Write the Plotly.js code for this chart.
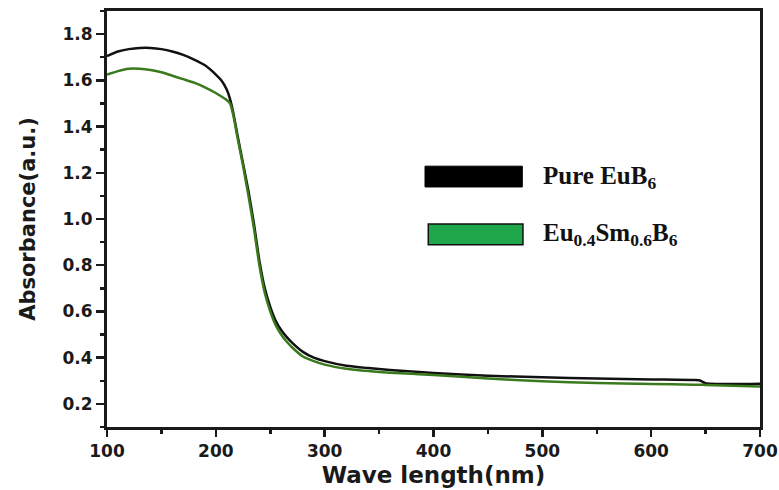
<!DOCTYPE html>
<html>
<head>
<meta charset="utf-8">
<script src="https://cdn.plot.ly/plotly-3.0.1.min.js"></script>
<style>
  html, body { margin: 0; padding: 0; background: #fff; }
  #chart { width: 779px; height: 490px; }
</style>
</head>
<body>
<div id="chart"></div>
<script>
// Wavelength (nm)
const wavelength = [100,110,120,130,140,150,160,170,180,190,200,205,210,213,216,220,225,230,235,240,245,250,255,260,265,270,280,290,300,320,340,360,380,400,450,500,550,600,640,645,650,700];
// Pure EuB6 absorbance
const absPure = [1.705,1.725,1.735,1.74,1.74,1.735,1.725,1.71,1.69,1.665,1.625,1.60,1.56,1.52,1.46,1.36,1.24,1.12,0.98,0.82,0.70,0.62,0.56,0.52,0.49,0.465,0.425,0.40,0.385,0.365,0.355,0.347,0.34,0.334,0.322,0.315,0.31,0.306,0.303,0.301,0.289,0.287];
// Eu0.4Sm0.6B6 absorbance
const absDoped = [1.625,1.64,1.65,1.65,1.645,1.635,1.62,1.605,1.59,1.57,1.545,1.53,1.515,1.50,1.45,1.35,1.23,1.10,0.96,0.80,0.68,0.60,0.54,0.50,0.47,0.445,0.405,0.385,0.37,0.352,0.342,0.335,0.33,0.325,0.31,0.298,0.29,0.286,0.283,0.283,0.282,0.275];

const seriesNames = ['Pure EuB<sub>6</sub>', 'Eu<sub>0.4</sub>Sm<sub>0.6</sub>B<sub>6</sub>'];
const xTitle = 'Wave length(nm)';
const yTitle = 'Absorbance(a.u.)';

const traces = [
  { x: wavelength, y: absPure, type: 'scatter', mode: 'lines', name: 'Pure EuB6',
    line: { color: '#111111', width: 2.5, shape: 'spline', smoothing: 0.6 } },
  { x: wavelength, y: absDoped, type: 'scatter', mode: 'lines', name: 'Eu0.4Sm0.6B6',
    line: { color: '#3a7a1c', width: 2.5, shape: 'spline', smoothing: 0.6 } }
];

const tickFont = { family: 'DejaVu Sans', size: 17, color: '#1a1a1a', weight: 'bold' };

const layout = {
  width: 779, height: 490,
  margin: { l: 107, r: 19, t: 11, b: 63 },
  paper_bgcolor: '#ffffff', plot_bgcolor: '#ffffff',
  showlegend: false,
  xaxis: {
    range: [100, 700], tick0: 100, dtick: 100,
    ticks: 'outside', ticklen: 7, tickwidth: 2.5, tickcolor: '#1a1a1a',
    minor: { dtick: 50, ticks: 'outside', ticklen: 4, tickwidth: 2.5, tickcolor: '#1a1a1a' },
    showline: true, linecolor: '#1a1a1a', linewidth: 3, mirror: true,
    showgrid: false, zeroline: false,
    tickfont: tickFont,
    title: { text: xTitle, font: { family: 'DejaVu Sans', size: 23, color: '#1a1a1a', weight: 'bold' }, standoff: 7 }
  },
  yaxis: {
    range: [0.1, 1.9], tick0: 0.2, dtick: 0.2, tickformat: '.1f',
    ticks: 'outside', ticklen: 8, tickwidth: 2.5, tickcolor: '#1a1a1a',
    minor: { dtick: 0.1, ticks: 'outside', ticklen: 4, tickwidth: 2.5, tickcolor: '#1a1a1a' },
    showline: true, linecolor: '#1a1a1a', linewidth: 3, mirror: true,
    showgrid: false, zeroline: false,
    tickfont: tickFont,
    title: { text: yTitle, font: { family: 'DejaVu Sans', size: 21, color: '#1a1a1a', weight: 'bold' }, standoff: 22 }
  },
  shapes: [
    { type: 'rect', xref: 'paper', yref: 'paper', x0: 0.487, x1: 0.636, y0: 0.577, y1: 0.627,
      fillcolor: '#000000', line: { color: '#000000', width: 1 } },
    { type: 'rect', xref: 'paper', yref: 'paper', x0: 0.492, x1: 0.637, y0: 0.438, y1: 0.488,
      fillcolor: '#1ea84b', line: { color: '#111111', width: 1.5 } }
  ],
  annotations: [
    { xref: 'paper', yref: 'paper', x: 0.664, y: 0.600, xanchor: 'left', yanchor: 'middle',
      text: seriesNames[0], showarrow: false,
      font: { family: 'Liberation Serif', size: 25, color: '#111111', weight: 'bold' } },
    { xref: 'paper', yref: 'paper', x: 0.664, y: 0.462, xanchor: 'left', yanchor: 'middle',
      text: seriesNames[1], showarrow: false,
      font: { family: 'Liberation Serif', size: 25, color: '#111111', weight: 'bold' } }
  ]
};

Plotly.newPlot('chart', traces, layout, { displayModeBar: false, staticPlot: true });
</script>
</body>
</html>
